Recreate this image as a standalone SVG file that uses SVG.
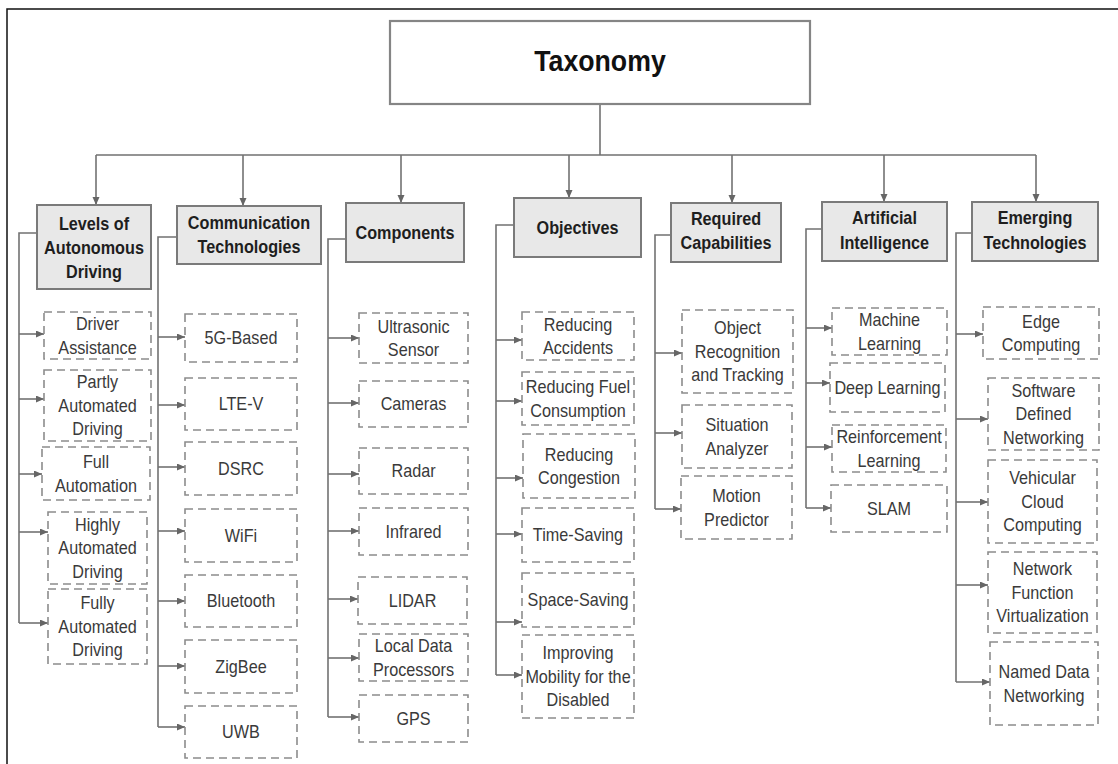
<svg xmlns="http://www.w3.org/2000/svg" width="1118" height="764" viewBox="0 0 1118 764">
<style>
.frame{fill:none;stroke:#111;stroke-width:1.5}
.root{fill:#fff;stroke:#858585;stroke-width:2.2}
.cat{fill:#e8e8e8;stroke:#7a7a7a;stroke-width:2}
.leaf{fill:#fff;stroke:#8c8c8c;stroke-width:1.6;stroke-dasharray:8 5}
.ln{fill:none;stroke:#727272;stroke-width:1.6}
.ar{fill:none;stroke:#727272;stroke-width:1.6;marker-end:url(#ah)}
text{font-family:"Liberation Sans",Arial,sans-serif;text-anchor:middle}
.tt{font-size:30px;font-weight:bold;fill:#111}
.ct{font-size:18px;font-weight:bold;fill:#1e1e1e}
.lt{font-size:18px;fill:#3a3a3a}
</style>
<defs>
<marker id="ah" markerUnits="userSpaceOnUse" markerWidth="9" markerHeight="8" refX="8" refY="3.5" orient="auto">
<path d="M0,0 L8,3.5 L0,7 z" fill="#666"/>
</marker>
</defs>
<path class="frame" d="M7,764 V9 H1118"/>

<g id="connectors">
<path class="ln" d="M600,104 V155 M96,155 H1036"/>
<path class="ar" d="M96,155 V205"/>
<path class="ar" d="M243,155 V206"/>
<path class="ar" d="M401,155 V203"/>
<path class="ar" d="M569,155 V198"/>
<path class="ar" d="M732,155 V203"/>
<path class="ar" d="M884,155 V202"/>
<path class="ar" d="M1036,155 V202"/>
<!-- col1 -->
<path class="ln" d="M37,233 H19 V623"/>
<path class="ar" d="M19,334 H44"/><path class="ar" d="M19,399 H44"/><path class="ar" d="M19,474 H42"/><path class="ar" d="M19,532 H48"/><path class="ar" d="M19,623 H48"/>
<!-- col2 -->
<path class="ln" d="M177,237 H158 V727"/>
<path class="ar" d="M158,337 H185"/><path class="ar" d="M158,405 H185"/><path class="ar" d="M158,467 H185"/><path class="ar" d="M158,531 H185"/><path class="ar" d="M158,601 H185"/><path class="ar" d="M158,666 H185"/><path class="ar" d="M158,727 H185"/>
<!-- col3 -->
<path class="ln" d="M346,239 H328 V717"/>
<path class="ar" d="M328,338 H359"/><path class="ar" d="M328,403 H359"/><path class="ar" d="M328,474 H359"/><path class="ar" d="M328,531 H359"/><path class="ar" d="M328,599 H358"/><path class="ar" d="M328,658 H359"/><path class="ar" d="M328,717 H359"/>
<!-- col4 -->
<path class="ln" d="M514,225 H496 V675"/>
<path class="ar" d="M496,340 H522"/><path class="ar" d="M496,401 H522"/><path class="ar" d="M496,478 H523"/><path class="ar" d="M496,534 H522"/><path class="ar" d="M496,622 H522"/><path class="ar" d="M496,675 H522"/>
<!-- col5 -->
<path class="ln" d="M671,235 H655 V509"/>
<path class="ar" d="M655,353 H682"/><path class="ar" d="M655,433 H682"/><path class="ar" d="M655,509 H681"/>
<!-- col6 -->
<path class="ln" d="M822,229 H806 V508"/>
<path class="ar" d="M806,328 H832"/><path class="ar" d="M806,383 H830"/><path class="ar" d="M806,447 H832"/><path class="ar" d="M806,508 H831"/>
<!-- col7 -->
<path class="ln" d="M972,233 H956 V682"/>
<path class="ar" d="M956,334 H983"/><path class="ar" d="M956,419 H988"/><path class="ar" d="M956,502 H988"/><path class="ar" d="M956,585 H988"/><path class="ar" d="M956,682 H990"/>
</g>

<g id="taxonomy"><rect class="root" x="390" y="21" width="420" height="83"/><text class="tt" transform="translate(600,0) scale(.89,1)"><tspan x="0" y="71">Taxonomy</tspan></text></g>

<g id="levels"><rect class="cat" x="37" y="205" width="114" height="84"/><text class="ct" transform="translate(94,0) scale(.9,1)"><tspan x="0" y="230.5">Levels of</tspan><tspan x="0" y="254.5">Autonomous</tspan><tspan x="0" y="278.5">Driving</tspan></text></g>
<g id="comm"><rect class="cat" x="177" y="206" width="144" height="58"/><text class="ct" transform="translate(249,0) scale(.9,1)"><tspan x="0" y="229.5">Communication</tspan><tspan x="0" y="253.5">Technologies</tspan></text></g>
<g id="components"><rect class="cat" x="346" y="203" width="118" height="59"/><text class="ct" transform="translate(405,0) scale(.9,1)"><tspan x="0" y="239.5">Components</tspan></text></g>
<g id="objectives"><rect class="cat" x="514" y="198" width="127" height="59"/><text class="ct" transform="translate(577.5,0) scale(.9,1)"><tspan x="0" y="234.5">Objectives</tspan></text></g>
<g id="required"><rect class="cat" x="671" y="203" width="110" height="59"/><text class="ct" transform="translate(726,0) scale(.9,1)"><tspan x="0" y="225.5">Required</tspan><tspan x="0" y="249.5">Capabilities</tspan></text></g>
<g id="ai"><rect class="cat" x="822" y="202" width="125" height="59"/><text class="ct" transform="translate(884.5,0) scale(.9,1)"><tspan x="0" y="224.5">Artificial</tspan><tspan x="0" y="249">Intelligence</tspan></text></g>
<g id="emerging"><rect class="cat" x="972" y="202" width="126" height="59"/><text class="ct" transform="translate(1035,0) scale(.9,1)"><tspan x="0" y="224.5">Emerging</tspan><tspan x="0" y="249">Technologies</tspan></text></g>

<!-- col1 leaves -->
<g id="driver-assistance"><rect class="leaf" x="44" y="312" width="107" height="47"/><text class="lt" transform="translate(97.5,0) scale(.9,1)"><tspan x="0" y="330.25">Driver</tspan><tspan x="0" y="353.75">Assistance</tspan></text></g>
<g id="partly"><rect class="leaf" x="44" y="370" width="107" height="71"/><text class="lt" transform="translate(97.5,0) scale(.9,1)"><tspan x="0" y="388.5">Partly</tspan><tspan x="0" y="412">Automated</tspan><tspan x="0" y="435.5">Driving</tspan></text></g>
<g id="full"><rect class="leaf" x="42" y="447" width="108" height="53"/><text class="lt" transform="translate(96,0) scale(.9,1)"><tspan x="0" y="468.25">Full</tspan><tspan x="0" y="491.75">Automation</tspan></text></g>
<g id="highly"><rect class="leaf" x="48" y="512" width="99" height="72"/><text class="lt" transform="translate(97.5,0) scale(.9,1)"><tspan x="0" y="531">Highly</tspan><tspan x="0" y="554.5">Automated</tspan><tspan x="0" y="578">Driving</tspan></text></g>
<g id="fully"><rect class="leaf" x="48" y="589" width="99" height="75"/><text class="lt" transform="translate(97.5,0) scale(.9,1)"><tspan x="0" y="609.5">Fully</tspan><tspan x="0" y="633">Automated</tspan><tspan x="0" y="656.5">Driving</tspan></text></g>

<!-- col2 leaves -->
<g id="g5"><rect class="leaf" x="185" y="314" width="112" height="48"/><text class="lt" transform="translate(241,0) scale(.9,1)"><tspan x="0" y="344.5">5G-Based</tspan></text></g>
<g id="ltev"><rect class="leaf" x="185" y="378" width="112" height="52"/><text class="lt" transform="translate(241,0) scale(.9,1)"><tspan x="0" y="410.5">LTE-V</tspan></text></g>
<g id="dsrc"><rect class="leaf" x="185" y="442" width="112" height="53"/><text class="lt" transform="translate(241,0) scale(.9,1)"><tspan x="0" y="475">DSRC</tspan></text></g>
<g id="wifi"><rect class="leaf" x="185" y="509" width="112" height="53"/><text class="lt" transform="translate(241,0) scale(.9,1)"><tspan x="0" y="542">WiFi</tspan></text></g>
<g id="bluetooth"><rect class="leaf" x="185" y="575" width="112" height="52"/><text class="lt" transform="translate(241,0) scale(.9,1)"><tspan x="0" y="607.5">Bluetooth</tspan></text></g>
<g id="zigbee"><rect class="leaf" x="185" y="640" width="112" height="53"/><text class="lt" transform="translate(241,0) scale(.9,1)"><tspan x="0" y="673">ZigBee</tspan></text></g>
<g id="uwb"><rect class="leaf" x="185" y="706" width="112" height="52"/><text class="lt" transform="translate(241,0) scale(.9,1)"><tspan x="0" y="738.5">UWB</tspan></text></g>

<!-- col3 leaves -->
<g id="ultrasonic"><rect class="leaf" x="359" y="313" width="109" height="50"/><text class="lt" transform="translate(413.5,0) scale(.9,1)"><tspan x="0" y="332.75">Ultrasonic</tspan><tspan x="0" y="356.25">Sensor</tspan></text></g>
<g id="cameras"><rect class="leaf" x="359" y="381" width="109" height="46"/><text class="lt" transform="translate(413.5,0) scale(.9,1)"><tspan x="0" y="410.5">Cameras</tspan></text></g>
<g id="radar"><rect class="leaf" x="359" y="448" width="109" height="46"/><text class="lt" transform="translate(413.5,0) scale(.9,1)"><tspan x="0" y="477.5">Radar</tspan></text></g>
<g id="infrared"><rect class="leaf" x="359" y="508" width="109" height="47"/><text class="lt" transform="translate(413.5,0) scale(.9,1)"><tspan x="0" y="538">Infrared</tspan></text></g>
<g id="lidar"><rect class="leaf" x="358" y="577" width="109" height="47"/><text class="lt" transform="translate(412.5,0) scale(.9,1)"><tspan x="0" y="607">LIDAR</tspan></text></g>
<g id="local-data"><rect class="leaf" x="359" y="634" width="109" height="47"/><text class="lt" transform="translate(413.5,0) scale(.9,1)"><tspan x="0" y="652.25">Local Data</tspan><tspan x="0" y="675.75">Processors</tspan></text></g>
<g id="gps"><rect class="leaf" x="359" y="695" width="109" height="47"/><text class="lt" transform="translate(413.5,0) scale(.9,1)"><tspan x="0" y="725">GPS</tspan></text></g>

<!-- col4 leaves -->
<g id="red-acc"><rect class="leaf" x="522" y="312" width="112" height="48"/><text class="lt" transform="translate(578,0) scale(.9,1)"><tspan x="0" y="330.75">Reducing</tspan><tspan x="0" y="354.25">Accidents</tspan></text></g>
<g id="red-fuel"><rect class="leaf" x="522" y="372" width="112" height="53"/><text class="lt" transform="translate(578,0) scale(.9,1)"><tspan x="0" y="393.25">Reducing Fuel</tspan><tspan x="0" y="416.75">Consumption</tspan></text></g>
<g id="red-cong"><rect class="leaf" x="523" y="434" width="112" height="64"/><text class="lt" transform="translate(579,0) scale(.9,1)"><tspan x="0" y="460.75">Reducing</tspan><tspan x="0" y="484.25">Congestion</tspan></text></g>
<g id="time-saving"><rect class="leaf" x="522" y="508" width="112" height="54"/><text class="lt" transform="translate(578,0) scale(.9,1)"><tspan x="0" y="541.5">Time-Saving</tspan></text></g>
<g id="space-saving"><rect class="leaf" x="522" y="573" width="112" height="54"/><text class="lt" transform="translate(578,0) scale(.9,1)"><tspan x="0" y="606.5">Space-Saving</tspan></text></g>
<g id="mobility"><rect class="leaf" x="522" y="635" width="112" height="83"/><text class="lt" transform="translate(578,0) scale(.9,1)"><tspan x="0" y="659.5">Improving</tspan><tspan x="0" y="683">Mobility for the</tspan><tspan x="0" y="706.5">Disabled</tspan></text></g>

<!-- col5 leaves -->
<g id="object-rec"><rect class="leaf" x="682" y="310" width="111" height="83"/><text class="lt" transform="translate(737.5,0) scale(.9,1)"><tspan x="0" y="334.5">Object</tspan><tspan x="0" y="358">Recognition</tspan><tspan x="0" y="381.5">and Tracking</tspan></text></g>
<g id="situation"><rect class="leaf" x="682" y="405" width="110" height="63"/><text class="lt" transform="translate(737,0) scale(.9,1)"><tspan x="0" y="431.25">Situation</tspan><tspan x="0" y="454.75">Analyzer</tspan></text></g>
<g id="motion"><rect class="leaf" x="681" y="476" width="111" height="63"/><text class="lt" transform="translate(736.5,0) scale(.9,1)"><tspan x="0" y="502.25">Motion</tspan><tspan x="0" y="525.75">Predictor</tspan></text></g>

<!-- col6 leaves -->
<g id="ml"><rect class="leaf" x="832" y="308" width="115" height="47"/><text class="lt" transform="translate(889.5,0) scale(.9,1)"><tspan x="0" y="326.25">Machine</tspan><tspan x="0" y="349.75">Learning</tspan></text></g>
<g id="dl"><rect class="leaf" x="830" y="363" width="115" height="49"/><text class="lt" transform="translate(887.5,0) scale(.9,1)"><tspan x="0" y="394">Deep Learning</tspan></text></g>
<g id="rl"><rect class="leaf" x="832" y="425" width="114" height="47"/><text class="lt" transform="translate(889,0) scale(.9,1)"><tspan x="0" y="443.25">Reinforcement</tspan><tspan x="0" y="466.75">Learning</tspan></text></g>
<g id="slam"><rect class="leaf" x="831" y="485" width="116" height="47"/><text class="lt" transform="translate(889,0) scale(.9,1)"><tspan x="0" y="515">SLAM</tspan></text></g>

<!-- col7 leaves -->
<g id="edge"><rect class="leaf" x="983" y="307" width="116" height="52"/><text class="lt" transform="translate(1041,0) scale(.9,1)"><tspan x="0" y="327.75">Edge</tspan><tspan x="0" y="351.25">Computing</tspan></text></g>
<g id="sdn"><rect class="leaf" x="988" y="378" width="111" height="72"/><text class="lt" transform="translate(1043.5,0) scale(.9,1)"><tspan x="0" y="397">Software</tspan><tspan x="0" y="420.5">Defined</tspan><tspan x="0" y="444">Networking</tspan></text></g>
<g id="vcc"><rect class="leaf" x="988" y="460" width="109" height="83"/><text class="lt" transform="translate(1042.5,0) scale(.9,1)"><tspan x="0" y="484.5">Vehicular</tspan><tspan x="0" y="508">Cloud</tspan><tspan x="0" y="531.5">Computing</tspan></text></g>
<g id="nfv"><rect class="leaf" x="988" y="552" width="109" height="81"/><text class="lt" transform="translate(1042.5,0) scale(.9,1)"><tspan x="0" y="575.5">Network</tspan><tspan x="0" y="599">Function</tspan><tspan x="0" y="622.5">Virtualization</tspan></text></g>
<g id="ndn"><rect class="leaf" x="990" y="642" width="108" height="83"/><text class="lt" transform="translate(1044,0) scale(.9,1)"><tspan x="0" y="678.25">Named Data</tspan><tspan x="0" y="701.75">Networking</tspan></text></g>
</svg>
